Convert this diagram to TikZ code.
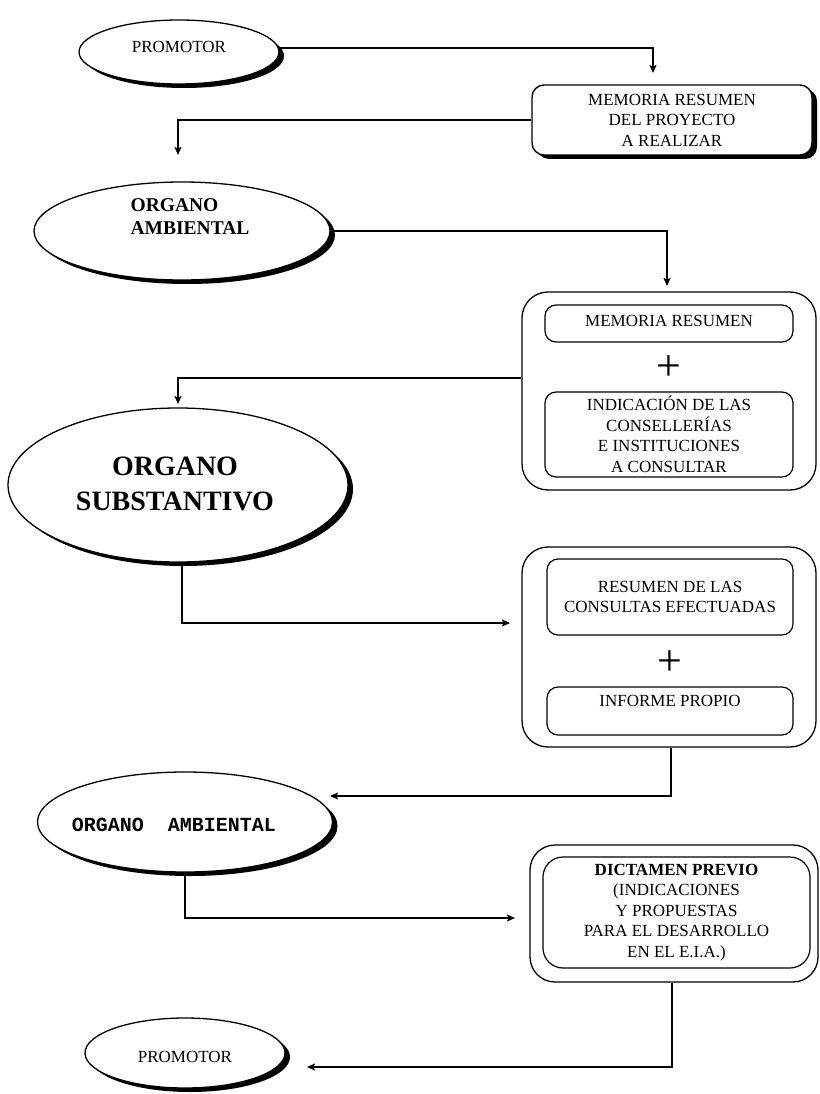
\documentclass[tikz,border=0pt]{standalone}
\usepackage{fontspec}
\setmainfont{Liberation Serif}
\setmonofont{Liberation Mono}
\usetikzlibrary{shapes.geometric,shadows,arrows.meta}

% text size used inside the boxes
\newcommand\boxfont{\fontsize{17}{20.5}\selectfont}

\begin{document}
\begin{tikzpicture}[x=1pt,y=-1pt,
  oval/.style={ellipse,draw,line width=1.3pt,fill=white,inner sep=0pt,
    drop shadow={shadow xshift=5pt,shadow yshift=-4pt,fill=black,opacity=1}},
  shbox/.style={rectangle,draw,line width=1.4pt,fill=white,rounded corners=12pt,
    inner sep=0pt,align=center,font=\boxfont,
    drop shadow={shadow xshift=5pt,shadow yshift=-4pt,fill=black,opacity=1}},
  outerbox/.style={rectangle,draw,line width=1.3pt,rounded corners=26pt,inner sep=0pt},
  innerbox/.style={rectangle,draw,line width=1.2pt,rounded corners=11pt,inner sep=0pt},
  lbl/.style={inner sep=0pt,align=center,font=\boxfont},
  plus/.style={inner sep=0pt,font=\fontsize{44}{44}\selectfont},
  conn/.style={line width=1.2pt,-{Stealth[length=8pt,width=7pt,inset=1.5pt]}}
]
\useasboundingbox (0,0) rectangle (819,1094);

% ---- actors (ovals) ----
\node[oval,minimum width=200pt,minimum height=64pt] (p1) at (179,52) {};
\node[lbl] (p1t) at (179,47) {PROMOTOR};

\node[oval,minimum width=296pt,minimum height=98pt] (oa1) at (182,231) {};
\node[inner sep=0pt,align=left,font=\bfseries\fontsize{19.5}{23}\selectfont] (oa1t) at (190,217) {ORGANO\\AMBIENTAL};

\node[oval,minimum width=340pt,minimum height=154pt] (os) at (178,485) {};
\node[inner sep=0pt,align=center,font=\bfseries\fontsize{28}{35}\selectfont] (ost) at (175,484) {ORGANO\\SUBSTANTIVO};

\node[oval,minimum width=295pt,minimum height=100pt] (oa2) at (185,822) {};
\node[inner sep=0pt,font=\ttfamily\bfseries\fontsize{20}{24}\selectfont] (oa2t) at (174,825) {ORGANO\ \ AMBIENTAL};

\node[oval,minimum width=200pt,minimum height=70pt] (p2) at (185,1053) {};
\node[lbl] (p2t) at (185,1057) {PROMOTOR};

% ---- documents ----
\node[shbox,minimum width=280pt,minimum height=70pt] (b1) at (672,120)
  {MEMORIA RESUMEN\\DEL PROYECTO\\A REALIZAR};

\node[outerbox,minimum width=294pt,minimum height=198pt] (o2) at (669,391) {};
\node[innerbox,minimum width=248pt,minimum height=37pt] (i2a) at (669,323.5) {};
\node[lbl] (i2at) at (669,321) {MEMORIA RESUMEN};
\node[plus] (plus2) at (669,368) {+};
\node[innerbox,minimum width=248pt,minimum height=85pt,lbl] (i2b) at (669,434.5)
  {INDICACIÓN DE LAS\\CONSELLERÍAS\\E INSTITUCIONES\\A CONSULTAR};

\node[outerbox,minimum width=294pt,minimum height=200pt] (o3) at (669,647) {};
\node[innerbox,minimum width=246pt,minimum height=76pt,lbl] (i3a) at (670,597)
  {RESUMEN DE LAS\\CONSULTAS EFECTUADAS};
\node[plus] (plus3) at (670,663) {+};
\node[innerbox,minimum width=246pt,minimum height=48pt] (i3b) at (670,711) {};
\node[lbl] (i3bt) at (670,701) {INFORME PROPIO};

\node[outerbox,rounded corners=25pt,minimum width=288pt,minimum height=137pt] (o4) at (674,913.5) {};
\node[innerbox,rounded corners=20pt,minimum width=267pt,minimum height=111pt,lbl] (i4) at (676.5,912.5)
  {\textbf{DICTAMEN PREVIO}\\(INDICACIONES\\Y PROPUESTAS\\PARA EL DESARROLLO\\EN EL E.I.A.)};

% ---- arrow end points ----
\coordinate (a1) at (653,73);
\coordinate (a2) at (178,155);
\coordinate (a3) at (667,286);
\coordinate (a4) at (178,404);
\coordinate (a5) at (510,623);
\coordinate (a6) at (330,796);
\coordinate (a7) at (515,918);
\coordinate (a8) at (307,1067);

% ---- connectors ----
\draw[conn] ([yshift=4pt]p1.east) -| (a1);
\draw[conn] (b1.west) -| (a2);
\draw[conn] (oa1.east) -| (a3);
\draw[conn] ([yshift=13pt]o2.west) -| (a4);
\draw[conn] ([xshift=4pt]os.south) |- (a5);
\draw[conn] ([xshift=2pt]o3.south) |- (a6);
\draw[conn] (oa2.south) |- (a7);
\draw[conn] ([xshift=-2pt]o4.south) |- (a8);
\end{tikzpicture}
\end{document}
